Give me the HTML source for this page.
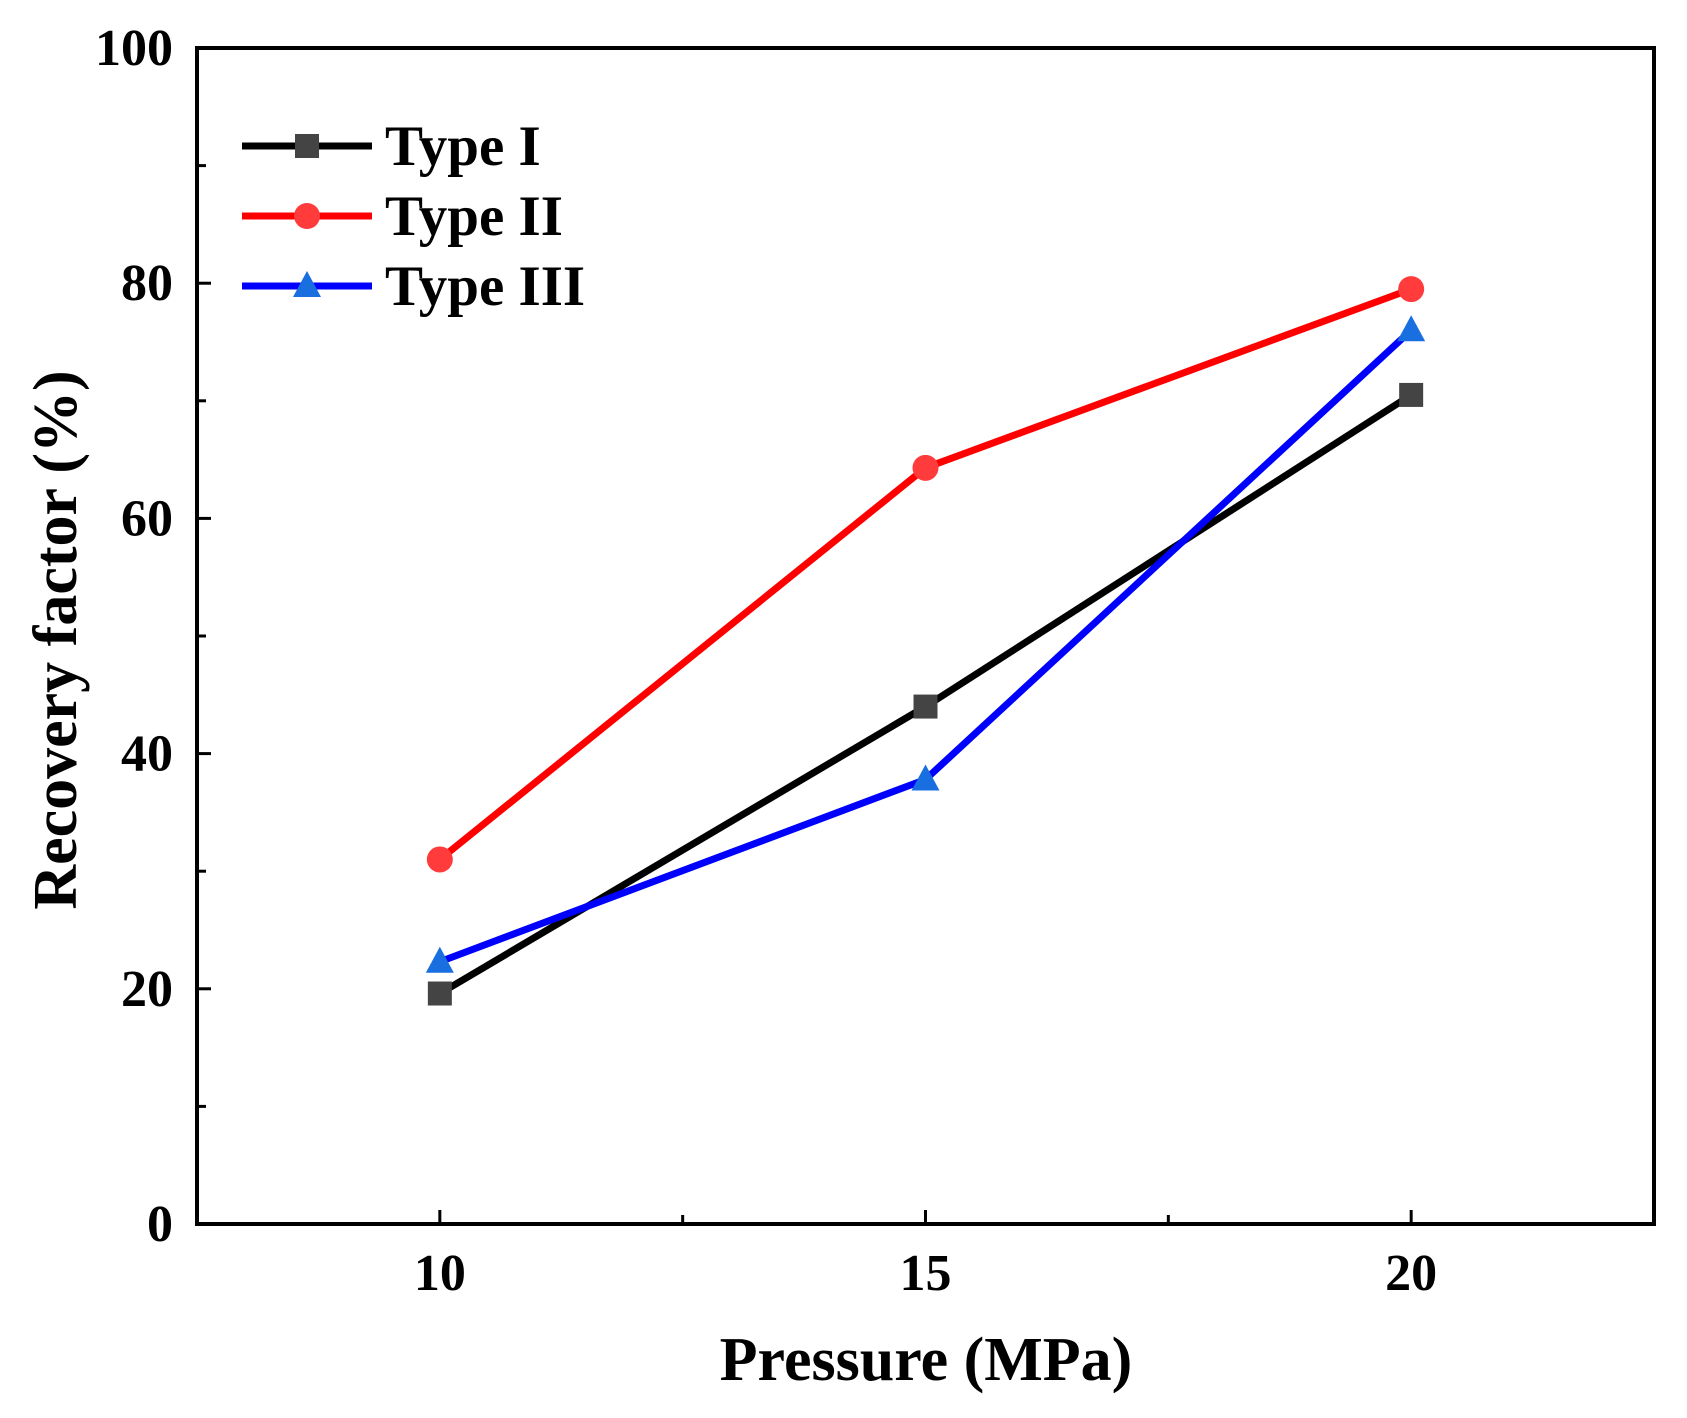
<!DOCTYPE html>
<html><head><meta charset="utf-8"><style>body{margin:0;background:#fff}svg{display:block}text{font-family:"Liberation Serif",serif;font-weight:bold}</style></head>
<body>
<svg id="chart" width="1687" height="1418" viewBox="0 0 1687 1418" xmlns="http://www.w3.org/2000/svg"></svg>
<script>
const categories=[10,15,20];
const typeI=[19.6,44,70.5];
const typeII=[31,64.3,79.5];
const typeIII=[22.3,37.8,76];
const yTicks=[0,20,40,60,80,100];
const yMinor=[10,30,50,70,90];
const xTicks=[10,15,20];
const xMinor=[12.5,17.5];
const L=197,R=1654,T=48,B=1224;
const X=v=>L+(v-7.5)/15*(R-L);
const Y=v=>B-v/100*(B-T);
const svg=document.getElementById('chart');const NS='http://www.w3.org/2000/svg';
function mk(t,a,p){const e=document.createElementNS(NS,t);for(const k in a)e.setAttribute(k,a[k]);(p||svg).appendChild(e);return e;}
const frame=mk('rect',{x:L,y:T,width:R-L,height:B-T,fill:'none',stroke:'#000','stroke-width':4});


yTicks.forEach(v=>{mk('line',{x1:L,x2:L+14,y1:Y(v),y2:Y(v),stroke:'#000','stroke-width':3});
const t=mk('text',{x:L-24,y:Y(v)+17,'text-anchor':'end','font-size':52});t.textContent=v;

});
yMinor.forEach(v=>mk('line',{x1:L,x2:L+9,y1:Y(v),y2:Y(v),stroke:'#000','stroke-width':3}));
xTicks.forEach(v=>{mk('line',{x1:X(v),x2:X(v),y1:B,y2:B-14,stroke:'#000','stroke-width':3});
const t=mk('text',{x:X(v),y:B+66,'text-anchor':'middle','font-size':52});t.textContent=v;

});
xMinor.forEach(v=>mk('line',{x1:X(v),x2:X(v),y1:B,y2:B-9,stroke:'#000','stroke-width':3}));
const xt=mk('text',{x:926,y:1380,'text-anchor':'middle','font-size':62});xt.textContent='Pressure (MPa)';


const yt=mk('text',{x:0,y:0,'text-anchor':'middle','font-size':62,transform:'translate(76,640) rotate(-90)'});yt.textContent='Recovery factor (%)';


function marker(type,cx,cy,color,g){
 if(type==='sq')return mk('rect',{x:cx-12,y:cy-12,width:24,height:24,fill:color},g);
 if(type==='ci')return mk('circle',{cx:cx,cy:cy,r:13,fill:color},g);
 return mk('polygon',{points:`${cx},${cy-15} ${cx-14},${cy+11} ${cx+14},${cy+11}`,fill:color},g);}
const series=[{name:'Type I',d:typeI,c:'#000',m:'sq',mc:'#444'},{name:'Type II',d:typeII,c:'#ff0000',m:'ci',mc:'#ff3b3b'},{name:'Type III',d:typeIII,c:'#0000ff',m:'tr',mc:'#1a6fe0'}];
series.forEach((s,i)=>{
 const g=mk('g',{});
 
 
 mk('polyline',{points:s.d.map((v,j)=>X(categories[j])+','+Y(v)).join(' '),fill:'none',stroke:s.c,'stroke-width':7,'stroke-linejoin':'round'},g);
 s.d.forEach((v,j)=>{const m=marker(s.m,X(categories[j]),Y(v),s.mc,g);
  
  });
 const ly=146+i*70;
 const lg=mk('g',{});
 
 
 mk('line',{x1:242,x2:372,y1:ly,y2:ly,stroke:s.c,'stroke-width':7},lg);
 marker(s.m,307,ly,s.mc,lg);
 const t=mk('text',{x:385,y:ly+19,'font-size':57},lg);t.textContent=s.name;
});
</script>
</body></html>
